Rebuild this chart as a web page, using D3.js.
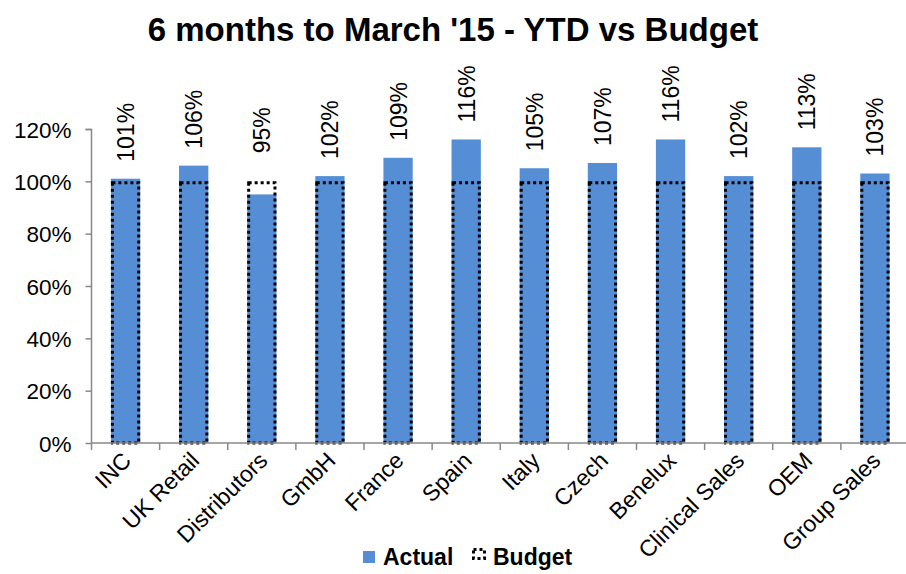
<!DOCTYPE html>
<html><head><meta charset="utf-8">
<script src="https://cdn.jsdelivr.net/npm/d3@7"></script>
<style>body{margin:0;background:#fff}svg{display:block}text{font-family:"Liberation Sans",Arial,sans-serif}</style>
</head><body>
<svg id="c" width="906" height="574"></svg>
<script>
const categories = ["INC","UK Retail","Distributors","GmbH","France","Spain","Italy","Czech","Benelux","Clinical Sales","OEM","Group Sales"];
const actual = [101,106,95,102,109,116,105,107,116,102,113,103];
const budget = [100,100,100,100,100,100,100,100,100,100,100,100];
const yTicks = [0,20,40,60,80,100,120];
const title = "6 months to March '15 - YTD vs Budget";
const seriesNames = ["Actual","Budget"];

const svg = d3.select("#c");
const blue = "#558ED5";
const x = d3.scaleBand().domain(categories).range([91.5, 909]).paddingInner(0.57).paddingOuter(0.285);
const y = d3.scaleLinear().domain([0,120]).range([443,129]);

svg.append("text").attr("x",453).attr("y",41).attr("text-anchor","middle")
  .attr("font-size",33).attr("font-weight","bold").text(title);

// y axis
const ya = svg.append("g").attr("transform","translate(91.5,0)")
  .call(d3.axisLeft(y).tickValues(yTicks).tickFormat(d=>d+"%").tickSize(6).tickPadding(14));
ya.select(".domain").attr("stroke","#888").attr("stroke-width",1.5).attr("d","M-6,129.5H0V443");
ya.selectAll(".tick line").attr("stroke","#888").attr("stroke-width",1.5);
ya.selectAll(".tick text").attr("font-size",22.5).attr("fill","#000").attr("font-family","Liberation Sans, Arial, sans-serif").attr("dy","0.36em");

// bars
const g = svg.append("g");
g.selectAll("rect.act").data(categories).join("rect").attr("class","act")
  .attr("x",d=>x(d)).attr("width",x.bandwidth())
  .attr("y",(d,i)=>y(actual[i])).attr("height",(d,i)=>y(0)-y(actual[i]))
  .attr("fill",blue);
g.selectAll("rect.bud").data(categories).join("rect").attr("class","bud")
  .attr("x",d=>x(d)+1.5).attr("width",x.bandwidth()-3)
  .attr("y",(d,i)=>y(budget[i])+1.5).attr("height",(d,i)=>y(0)-y(budget[i])-1.5)
  .attr("fill","none").attr("stroke","#000").attr("stroke-width",3).attr("stroke-dasharray","3,3");

// x axis
const xa = svg.append("g");
xa.append("line").attr("x1",91.5).attr("x2",909).attr("y1",443).attr("y2",443).attr("stroke","#888").attr("stroke-width",1.5);
const step = x.step();
d3.range(categories.length+1).forEach(i=>{
  const xx = 91.5 + i*step;
  xa.append("line").attr("x1",xx).attr("x2",xx).attr("y1",443).attr("y2",450).attr("stroke","#888").attr("stroke-width",1.5);
});
xa.selectAll("text").data(categories).join("text")
  .attr("transform",d=>`translate(${x(d)+x.bandwidth()/2+7},${462}) rotate(-45)`)
  .attr("text-anchor","end").attr("font-size",23).text(d=>d);

// data labels
g.selectAll("text.lbl").data(categories).join("text").attr("class","lbl")
  .attr("transform",(d,i)=>{
    const top = actual[i] >= budget[i] ? y(actual[i]) - 17 : y(budget[i]) - 28;
    return `translate(${x(d)+x.bandwidth()/2+8.5},${top}) rotate(-90)`;
  })
  .attr("font-size",23).text((d,i)=>actual[i]+"%");

// legend
const lg = svg.append("g");
lg.append("rect").attr("x",363).attr("y",551).attr("width",12).attr("height",12).attr("fill",blue);
lg.append("text").attr("x",383).attr("y",565).attr("font-size",23).attr("font-weight","bold").text(seriesNames[0]);
lg.append("rect").attr("x",473.5).attr("y",549.5).attr("width",11).attr("height",9).attr("fill","none")
  .attr("stroke","#000").attr("stroke-width",3).attr("stroke-dasharray","3,3");
lg.append("text").attr("x",493).attr("y",565).attr("font-size",23).attr("font-weight","bold").text(seriesNames[1]);
</script>
</body></html>
